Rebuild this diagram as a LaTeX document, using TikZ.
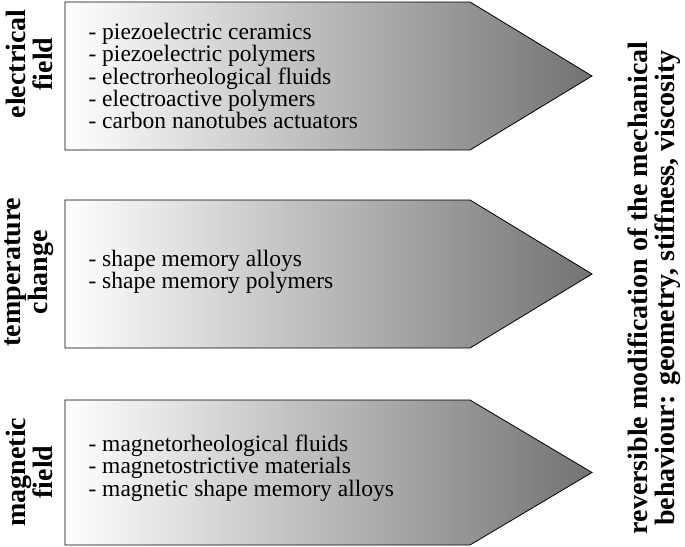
\documentclass[tikz,border=0pt]{standalone}
\usepackage{fontspec}
\setmainfont{Liberation Serif}
\usetikzlibrary{positioning}

\begin{document}
\begin{tikzpicture}[x=1pt,y=-1pt,
  stim node/.style={rotate=90,align=center,font=\fontsize{28}{27}\selectfont\bfseries},
  list node/.style={anchor=west,align=left,font=\fontsize{23.5}{21}\selectfont},
  arrow body/.style={draw=black,line width=0.8pt,left color=white,right color=black!55}]

  \useasboundingbox (0,0) rectangle (685,546);

  % the three arrows: top, bottom
  \foreach \t/\b [count=\i] in {2/150, 200/348, 400/545}{
    \path[arrow body] (65,\t) -- (470,\t) -- (592,{(\t+\b)/2}) -- (470,\b) -- (65,\b) -- cycle;
  }

  \node[stim node] (e) at (29,64)  {electrical\\field};
  \node[stim node] (t) at (29,272) {temperature\\change};
  \node[stim node] (m) at (29,472) {magnetic\\field};

  \node[list node] (el) at (85,76) {- piezoelectric ceramics\\- piezoelectric polymers\\- electrorheological fluids\\- electroactive polymers\\- carbon nanotubes actuators};
  \node[list node] (tl) at (85,272) {- shape memory alloys\\- shape memory polymers};
  \node[list node] (ml) at (85,468) {- magnetorheological fluids\\- magnetostrictive materials\\- magnetic shape memory alloys};

  \node[stim node] (r) at (654,288) {reversible modification of the mechanical\\behaviour: geometry, stiffness, viscosity};
\end{tikzpicture}
\end{document}
